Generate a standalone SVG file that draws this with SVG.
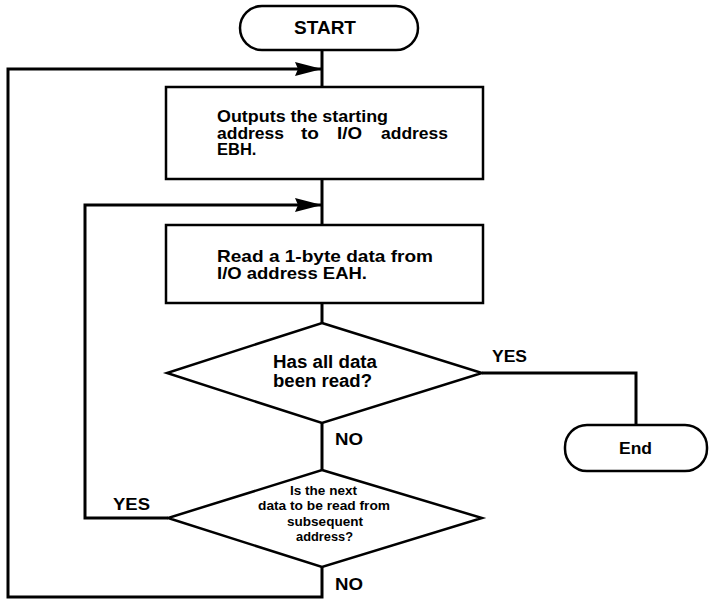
<svg xmlns="http://www.w3.org/2000/svg" width="710" height="599" viewBox="0 0 710 599">
<defs>
<style>
.s{fill:#fff;stroke:#000;stroke-width:2.5}
.c{fill:none;stroke:#000;stroke-width:3}
.t{font-family:"Liberation Sans",Arial,sans-serif;font-weight:bold;fill:#000}
</style>
<marker id="ah" markerUnits="userSpaceOnUse" markerWidth="30" markerHeight="16" refX="27" refY="8" orient="auto">
<path d="M0,1 L27,8 L0,15 L3,8 Z" fill="#000"/>
</marker>
</defs>
<rect width="710" height="599" fill="#fff"/>
<g id="connectors">
<path class="c" d="M322,50 V87"/>
<path class="c" d="M322,179 V225"/>
<path class="c" d="M322,303 V323"/>
<path class="c" d="M322,423 V470"/>
<path class="c" d="M482,373 H636 V425"/>
<path class="c" d="M168,518 H85 V205 H322" marker-end="url(#ah)"/>
<path class="c" d="M322,567 V597 H8 V69 H322" marker-end="url(#ah)"/>
</g>
<g id="start">
<rect class="s" x="240" y="6" width="178" height="44" rx="22"/>
<text class="t" x="294" y="34" font-size="18" textLength="62" lengthAdjust="spacingAndGlyphs">START</text>
</g>
<g id="box1">
<rect class="s" x="166" y="87" width="317" height="92"/>
<text class="t" font-size="16.5" x="217" y="122" textLength="171" lengthAdjust="spacingAndGlyphs">Outputs the starting</text>
<text class="t" font-size="16.5" y="138.5" xml:space="preserve"><tspan x="217" textLength="67" lengthAdjust="spacingAndGlyphs">address</tspan><tspan x="301" textLength="18" lengthAdjust="spacingAndGlyphs">to</tspan><tspan x="337" textLength="25" lengthAdjust="spacingAndGlyphs">I/O</tspan><tspan x="381" textLength="67" lengthAdjust="spacingAndGlyphs">address</tspan></text>
<text class="t" font-size="16.5" x="217" y="155">EBH.</text>
</g>
<g id="box2">
<rect class="s" x="166" y="225" width="317" height="78"/>
<text class="t" font-size="16.5"><tspan x="217" y="262" textLength="216" lengthAdjust="spacingAndGlyphs">Read a 1-byte data from</tspan><tspan x="217" y="279" textLength="150" lengthAdjust="spacingAndGlyphs">I/O address EAH.</tspan></text>
</g>
<g id="decision1">
<polygon class="s" points="322,323 482,373 322,423 167,373"/>
<text class="t" font-size="17.5"><tspan x="273" y="368" textLength="104" lengthAdjust="spacingAndGlyphs">Has all data</tspan><tspan x="273" y="387" textLength="99" lengthAdjust="spacingAndGlyphs">been read?</tspan></text>
</g>
<g id="decision2">
<polygon class="s" points="322,470 482,518 322,567 168,518"/>
<text class="t" font-size="13.5"><tspan x="290" y="495" textLength="67" lengthAdjust="spacingAndGlyphs">Is the next</tspan><tspan x="258" y="510" textLength="132" lengthAdjust="spacingAndGlyphs">data to be read from</tspan><tspan x="287" y="526" textLength="76" lengthAdjust="spacingAndGlyphs">subsequent</tspan><tspan x="296" y="541" textLength="57" lengthAdjust="spacingAndGlyphs">address?</tspan></text>
</g>
<g id="end">
<rect class="s" x="565" y="425" width="142" height="46" rx="22"/>
<text class="t" x="619" y="454" font-size="16" textLength="33" lengthAdjust="spacingAndGlyphs">End</text>
</g>
<g id="labels">
<text class="t" x="335" y="445" font-size="17" textLength="28" lengthAdjust="spacingAndGlyphs">NO</text>
<text class="t" x="113" y="510" font-size="17" textLength="37" lengthAdjust="spacingAndGlyphs">YES</text>
<text class="t" x="492" y="362" font-size="17" textLength="35" lengthAdjust="spacingAndGlyphs">YES</text>
<text class="t" x="335" y="590" font-size="17" textLength="28" lengthAdjust="spacingAndGlyphs">NO</text>
</g>
</svg>
